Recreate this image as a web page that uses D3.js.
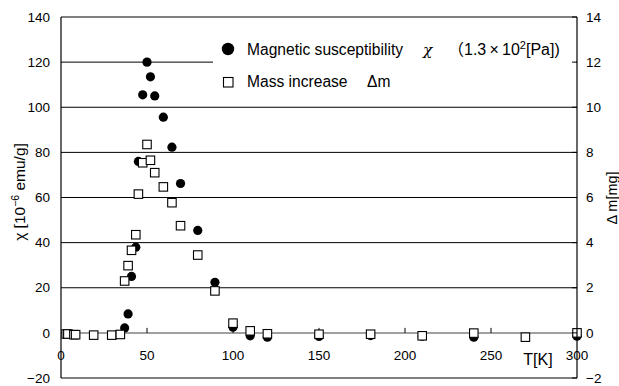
<!DOCTYPE html>
<html>
<head>
<meta charset="utf-8">
<script src="https://cdn.jsdelivr.net/npm/d3@7"></script>
<style>
  body { margin: 0; background: #fff; }
  svg { display: block; font-family: "Liberation Sans", Arial, sans-serif; }
</style>
</head>
<body>
<svg width="619" height="386" id="svg"></svg>
<script>
// susceptibility chi (1e-6 emu/g) vs T (K)
const chiT   = [37, 39, 41, 43.5, 45, 47.5, 50, 52, 54.5, 59.5, 64.5, 69.5, 79.5, 89.5, 100, 110, 120, 150, 180, 210, 240, 300];
const chiVal = [2.2, 8.4, 25, 38, 76, 105.5, 120, 113.5, 105, 95.6, 82.3, 66.2, 45.4, 22.4, 2.5, -1.3, -1.9, -1.6, -1.2, -1.5, -1.9, -1.5];
// mass increase (mg) vs T (K)
const massT   = [3, 4, 7.5, 8.5, 19, 29.5, 34.5, 37, 39, 41, 43.5, 45, 47.5, 50, 52, 54.5, 59.5, 64.5, 69.5, 79.5, 89.5, 100, 110, 120, 150, 180, 210, 240, 270, 300];
const massVal = [-0.05, -0.05, -0.08, -0.08, -0.1, -0.1, -0.07, 2.3, 2.98, 3.66, 4.35, 6.15, 7.54, 8.35, 7.65, 7.1, 6.47, 5.77, 4.75, 3.45, 1.86, 0.43, 0.09, -0.04, -0.06, -0.06, -0.13, -0.01, -0.19, 0];

const xTicks  = [0, 50, 100, 150, 200, 250, 300];
const yTicks  = [-20, 0, 20, 40, 60, 80, 100, 120, 140];
const y2Ticks = [-2, 0, 2, 4, 6, 8, 10, 12, 14];

const svg = d3.select("#svg");
const plotL = 61, plotR = 577, plotT = 17, plotB = 378;

const x  = d3.scaleLinear().domain([0, 300]).range([plotL, plotR]);
const y  = d3.scaleLinear().domain([-20, 140]).range([plotB, plotT]);
const y2 = d3.scaleLinear().domain([-2, 14]).range([plotB, plotT]);

// horizontal grid lines (also top / bottom frame)
svg.append("g")
  .selectAll("line")
  .data(yTicks.filter(d => d !== 0))
  .enter().append("line")
    .attr("x1", plotL).attr("x2", plotR)
    .attr("y1", d => y(d)).attr("y2", d => y(d))
    .attr("stroke", "#000").attr("stroke-width", 1);

// zero line with x ticks
svg.append("line")
  .attr("x1", plotL).attr("x2", plotR)
  .attr("y1", y(0)).attr("y2", y(0))
  .attr("stroke", "#808080").attr("stroke-width", 1.5);

svg.append("g")
  .selectAll("line")
  .data(xTicks.slice(1, -1))
  .enter().append("line")
    .attr("x1", d => x(d)).attr("x2", d => x(d))
    .attr("y1", y(0)).attr("y2", y(0) - 5)
    .attr("stroke", "#000");

// chi points
svg.append("g")
  .selectAll("circle")
  .data(chiT.map((t, i) => [t, chiVal[i]]))
  .enter().append("circle")
    .attr("cx", d => x(d[0]))
    .attr("cy", d => y(d[1]))
    .attr("r", 4.6)
    .attr("fill", "#000");

// mass points
const sq = 8.5;
svg.append("g")
  .selectAll("rect")
  .data(massT.map((t, i) => [t, massVal[i]]))
  .enter().append("rect")
    .attr("x", d => x(d[0]) - sq / 2)
    .attr("y", d => y2(d[1]) - sq / 2)
    .attr("width", sq).attr("height", sq)
    .attr("fill", "#fff")
    .attr("stroke", "#000")
    .attr("stroke-width", 1.1);

// legend
const lg = svg.append("g").attr("font-size", 15.6);
lg.append("rect")
  .attr("x", 213).attr("y", 27).attr("width", plotR - 214).attr("height", 74)
  .attr("fill", "#fff");
lg.append("circle").attr("cx", 228).attr("cy", 49).attr("r", 6.2).attr("fill", "#000");
lg.append("rect").attr("x", 223.5).attr("y", 77.5).attr("width", 9.5).attr("height", 9.5)
  .attr("fill", "#fff").attr("stroke", "#000").attr("stroke-width", 1.1);
lg.append("text").attr("x", 247).attr("y", 54.5).text("Magnetic susceptibility");
lg.append("text").attr("x", 423).attr("y", 54.5).attr("font-style", "italic")
  .attr("font-family", "'DejaVu Serif', serif").text("χ");
const t1 = lg.append("text").attr("x", 448).attr("y", 54.5).attr("font-size", 16);
t1.append("tspan").attr("font-family", "'Noto Sans CJK JP', sans-serif").text("（");
t1.append("tspan").text("1.3\u2009×\u200910");
t1.append("tspan").attr("dy", -6).attr("font-size", 11).text("2");
t1.append("tspan").attr("dy", 6).text("[Pa])");
lg.append("text").attr("x", 247).attr("y", 87).text("Mass increase");
lg.append("text").attr("x", 367).attr("y", 87).text("Δm");

// frame: left and right axes
svg.append("line").attr("x1", plotL).attr("x2", plotL).attr("y1", plotT).attr("y2", plotB)
  .attr("stroke", "#000").attr("stroke-width", 1.2);
svg.append("line").attr("x1", plotR).attr("x2", plotR).attr("y1", plotT).attr("y2", plotB)
  .attr("stroke", "#000").attr("stroke-width", 1.2);

// right axis ticks (inward)
svg.append("g")
  .selectAll("line")
  .data(y2Ticks)
  .enter().append("line")
    .attr("x1", plotR - 5).attr("x2", plotR)
    .attr("y1", d => y2(d)).attr("y2", d => y2(d))
    .attr("stroke", "#000");

// tick labels
svg.append("g")
  .attr("font-size", 13.5).attr("text-anchor", "end")
  .selectAll("text")
  .data(yTicks)
  .enter().append("text")
    .attr("x", plotL - 11).attr("y", d => y(d)).attr("dy", "0.35em")
    .text(d => d < 0 ? "−" + Math.abs(d) : d);

svg.append("g")
  .attr("font-size", 13.5).attr("text-anchor", "start")
  .selectAll("text")
  .data(y2Ticks)
  .enter().append("text")
    .attr("x", plotR + 9).attr("y", d => y2(d)).attr("dy", "0.35em")
    .text(d => d < 0 ? "−" + Math.abs(d) : d);

svg.append("g")
  .attr("font-size", 13.5).attr("text-anchor", "middle")
  .selectAll("text")
  .data(xTicks)
  .enter().append("text")
    .attr("x", d => x(d)).attr("y", 355).attr("dy", "0.35em")
    .text(d => d);

svg.append("text").attr("x", 538).attr("y", 359).attr("dy", "0.35em")
  .attr("text-anchor", "middle").attr("font-size", 16).text("T[K]");

// axis titles
const yl = svg.append("text")
  .attr("transform", "translate(25,192) rotate(-90)")
  .attr("text-anchor", "middle").attr("font-size", 15.5);
yl.append("tspan").text("χ [10");
yl.append("tspan").attr("dy", -6).attr("font-size", 10.5).text("−6");
yl.append("tspan").attr("dy", 6).text(" emu/g]");

svg.append("text")
  .attr("transform", "translate(617,198) rotate(-90)")
  .attr("text-anchor", "middle").attr("font-size", 14.5)
  .text("Δ m[mg]");
</script>
</body>
</html>
